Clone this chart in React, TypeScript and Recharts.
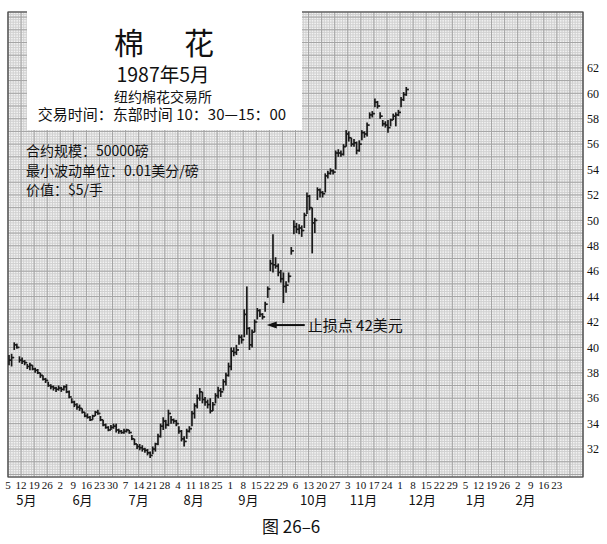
import { ComposedChart, Bar, XAxis, YAxis, CartesianGrid, ReferenceArea, ReferenceDot } from 'recharts'

// one label per week, starting Tuesday 5 May 1987
const weekLabels = [
  '5', '12', '19', '26',
  '2', '9', '16', '23', '30',
  '7', '14', '21', '28',
  '4', '11', '18', '25',
  '1', '8', '15', '22', '29',
  '6', '13', '20', '27',
  '3', '10', '17', '24',
  '1', '8', '15', '22', '29',
  '5', '12', '19', '26',
  '2', '9', '16', '23',
]
const monthLabels = ['5月', '6月', '7月', '8月', '9月', '10月', '11月', '12月', '1月', '2月']
const monthPos = [1.4, 5.7, 10, 14.2, 18.4, 23.4, 27.2, 31.7, 35.8, 39.6]
const priceTicks = [32, 34, 36, 38, 40, 42, 44, 46, 48, 50, 52, 54, 56, 58, 60, 62]

// daily bars, five per week
const highs = [
  39.4, 39.5, 40.4, 40.3, 39.3,
  39.2, 39.0, 38.7, 38.8, 38.6,
  38.4, 38.3, 38.0, 37.8, 37.6,
  37.3, 37.1, 37.0, 36.9, 37.0,
  36.9, 37.0, 37.1, 36.6, 36.0,
  35.8, 35.6, 35.5, 35.2, 34.9,
  34.8, 34.6, 34.7, 35.0, 35.1,
  34.6, 34.3, 34.0, 33.8, 33.9,
  34.0, 34.0, 33.6, 33.5, 33.6,
  33.6, 33.5, 33.1, 32.8, 32.4,
  32.4, 32.3, 32.1, 32.0, 31.8,
  32.2, 32.5, 33.2, 34.0, 34.5,
  34.3, 35.1, 34.6, 34.4, 34.3,
  33.8, 33.5, 33.0, 33.6, 33.8,
  35.0, 35.6, 36.3, 36.8, 36.5,
  36.1, 35.9, 36.0, 35.7, 36.4,
  36.9, 36.8, 37.5, 38.0, 38.8,
  40.0, 40.0, 40.2, 41.0, 41.0,
  43.0, 44.8, 41.6, 41.4, 42.2,
  43.1, 43.0, 42.7, 43.6, 44.8,
  46.9, 48.9, 47.1, 46.6, 46.1,
  45.9, 45.2, 45.9, 47.9, 50.0,
  49.8, 49.7, 49.6, 50.6, 52.2,
  52.0, 51.0, 50.2, 52.6, 52.5,
  52.3, 53.7, 53.9, 54.1, 54.0,
  55.5, 55.6, 55.5, 56.0, 57.1,
  57.0, 56.5, 56.4, 56.2, 56.3,
  57.1, 57.0, 57.7, 58.5, 58.6,
  59.6, 59.4, 58.5, 57.9, 57.8,
  57.9, 58.0, 58.4, 58.5, 58.7,
  59.7, 60.1, 60.5,
]
const lows = [
  38.6, 38.5, 39.8, 39.9, 38.8,
  38.7, 38.6, 38.3, 38.2, 38.2,
  38.0, 37.9, 37.6, 37.4, 37.2,
  36.9, 36.7, 36.6, 36.5, 36.6,
  36.5, 36.6, 36.4, 36.0, 35.6,
  35.3, 35.1, 35.0, 34.8, 34.5,
  34.4, 34.2, 34.3, 34.6, 34.7,
  34.2, 33.8, 33.6, 33.4, 33.5,
  33.6, 33.3, 33.2, 33.2, 33.2,
  33.3, 33.2, 32.7, 32.3, 32.0,
  31.9, 31.8, 31.7, 31.5, 31.3,
  31.6, 31.8, 32.3, 32.9, 33.5,
  33.6, 33.8, 34.0, 34.0, 33.8,
  33.2, 32.6, 32.2, 32.8, 33.3,
  33.8, 34.4, 35.2, 35.8, 35.6,
  35.4, 35.2, 34.8, 35.0, 35.6,
  36.0, 36.1, 36.6, 37.0, 37.7,
  38.2, 39.3, 39.4, 40.2, 40.3,
  40.8, 41.0, 39.8, 40.0, 41.2,
  42.2, 42.4, 42.2, 42.8, 43.9,
  46.0, 45.9, 46.2, 45.6, 45.1,
  43.5, 44.3, 45.1, 47.3, 48.9,
  49.0, 48.9, 48.7, 49.4, 50.5,
  50.8, 47.4, 49.0, 51.6, 51.8,
  51.8, 52.2, 53.3, 53.6, 53.6,
  54.0, 55.0, 55.0, 55.1, 55.8,
  56.2, 55.8, 55.8, 55.2, 55.4,
  56.3, 56.5, 56.6, 58.0, 58.1,
  58.9, 58.8, 58.0, 57.4, 57.3,
  56.9, 57.4, 57.9, 57.4, 58.2,
  58.9, 59.4, 59.8,
]
const closes = [
  39.0, 39.2, 40.2, 40.0, 39.0,
  38.9, 38.8, 38.5, 38.6, 38.3,
  38.2, 38.0, 37.8, 37.5, 37.4,
  37.0, 36.9, 36.8, 36.7, 36.8,
  36.7, 36.9, 36.5, 36.1, 35.7,
  35.5, 35.3, 35.2, 34.9, 34.6,
  34.5, 34.3, 34.6, 34.9, 34.8,
  34.3, 33.9, 33.7, 33.5, 33.7,
  33.8, 33.5, 33.4, 33.3, 33.4,
  33.5, 33.3, 32.8, 32.4, 32.2,
  32.1, 32.0, 31.9, 31.7, 31.5,
  32.0, 32.4, 33.0, 33.8, 34.2,
  33.9, 34.8, 34.3, 34.2, 34.0,
  33.4, 32.8, 32.6, 33.4, 33.6,
  34.8, 35.4, 36.0, 36.5, 35.9,
  35.7, 35.5, 35.0, 35.5, 36.2,
  36.6, 36.5, 37.3, 37.8, 38.5,
  39.7, 39.6, 39.8, 40.8, 40.6,
  42.6, 41.5, 40.2, 41.2, 42.0,
  42.9, 42.6, 42.4, 43.4, 44.6,
  46.6, 46.5, 46.4, 45.9, 45.4,
  44.8, 44.9, 45.6, 47.6, 49.5,
  49.3, 49.4, 49.2, 50.4, 51.9,
  51.0, 49.8, 50.0, 52.4, 52.2,
  52.1, 53.5, 53.7, 53.9, 53.8,
  55.3, 55.3, 55.2, 55.8, 56.8,
  56.5, 56.0, 56.1, 55.5, 56.0,
  56.9, 56.8, 57.5, 58.3, 58.4,
  59.3, 59.0, 58.2, 57.6, 57.5,
  57.3, 57.9, 58.2, 58.3, 58.5,
  59.5, 59.9, 60.3,
]

const data = highs.map((h, i) => ({
  day: Math.floor(i / 5) + ((i % 5) + 0.5) / 5,
  high: h,
  low: lows[i],
  close: closes[i],
  range: [lows[i], h],
}))

const X_DOMAIN = [0, 44]
const Y_DOMAIN = [29.8, 66.4]

// graph paper
const minorX = Array.from({ length: 221 }, (_, i) => +(i * 0.2).toFixed(1))
const minorY = Array.from({ length: 184 }, (_, i) => +(29.8 + i * 0.2).toFixed(1))
const majorX = Array.from({ length: 45 }, (_, i) => i)
const majorY = Array.from({ length: 37 }, (_, i) => 30 + i)

const OhlcBar = (props: any) => {
  const { x, y, width, height, payload } = props
  const cx = x + width / 2
  const span = payload.high - payload.low
  const cy = span > 0 ? y + ((payload.high - payload.close) / span) * height : y
  return (
    <g stroke="#1a1a1a" strokeWidth={1.7}>
      <line x1={cx} y1={y} x2={cx} y2={y + height} />
      <line x1={cx} y1={cy} x2={cx + 2.6} y2={cy} />
    </g>
  )
}

const StopArrow = ({ cx, cy }: any) => (
  <g>
    <polygon points={`${cx},${cy} ${cx + 10},${cy - 3.5} ${cx + 10},${cy + 3.5}`} fill="#111" />
    <line x1={cx + 9} y1={cy} x2={cx + 38} y2={cy} stroke="#111" strokeWidth={2} />
    <text x={cx + 41} y={cy + 5.5} fontSize={15} fontFamily="'Noto Sans CJK SC'" fill="#111">
      止损点 42美元
    </text>
  </g>
)

const cjk = "'Noto Sans CJK SC', 'Noto Sans', sans-serif"
const txt = (left: number, top: number, size: number, extra: any = {}) => ({
  position: 'absolute' as const,
  left,
  top,
  fontSize: size,
  lineHeight: `${size}px`,
  fontFamily: cjk,
  color: '#111',
  whiteSpace: 'nowrap' as const,
  ...extra,
})

export default function App() {
  return (
    <div style={{ position: 'absolute', left: 0, top: 0, width: 607, height: 544, background: '#fff' }}>
      <ComposedChart width={607} height={544} data={data} margin={{ top: 12, right: 0, bottom: 31, left: 8 }}>
        <XAxis
          xAxisId="day"
          dataKey="day"
          type="number"
          domain={X_DOMAIN}
          ticks={majorX.slice(0, weekLabels.length)}
          tickFormatter={(v: number) => weekLabels[v] ?? ''}
          allowDataOverflow
          height={17}
          axisLine={false}
          tickLine={false}
          tickSize={0}
          tickMargin={4}
          interval={0}
          tick={{ fontSize: 11, fontFamily: "'Liberation Serif', serif", fill: '#111' }}
        />
        <XAxis
          xAxisId="month"
          dataKey="day"
          type="number"
          domain={X_DOMAIN}
          ticks={monthPos}
          tickFormatter={(v: number) => monthLabels[monthPos.indexOf(v)] ?? ''}
          allowDataOverflow
          height={19}
          axisLine={false}
          tickLine={false}
          tickSize={0}
          tickMargin={2}
          interval={0}
          tick={{ fontSize: 13, fontFamily: cjk, fill: '#111' }}
        />
        <YAxis
          yAxisId="price"
          orientation="right"
          type="number"
          domain={Y_DOMAIN}
          ticks={priceTicks}
          allowDataOverflow
          width={24}
          axisLine={false}
          tickLine={false}
          tickSize={0}
          tickMargin={4}
          interval={0}
          tick={{ fontSize: 12, fontFamily: "'Liberation Serif', serif", fill: '#111' }}
        />
        <XAxis xAxisId="minorX" dataKey="day" type="number" domain={X_DOMAIN} ticks={minorX} interval={0} allowDataOverflow hide height={0} />
        <YAxis yAxisId="minorY" type="number" domain={Y_DOMAIN} ticks={minorY} interval={0} allowDataOverflow hide width={0} />
        <XAxis xAxisId="majorX" dataKey="day" type="number" domain={X_DOMAIN} ticks={majorX} interval={0} allowDataOverflow hide height={0} />
        <YAxis yAxisId="majorY" type="number" domain={Y_DOMAIN} ticks={majorY} interval={0} allowDataOverflow hide width={0} />
        <CartesianGrid xAxisId="minorX" yAxisId="minorY" stroke="#d0d0d0" fill="#f3f3f3" />
        <CartesianGrid xAxisId="majorX" yAxisId="majorY" stroke="#a4a4a4" />
        <ReferenceArea
          xAxisId="day"
          yAxisId="price"
          x1={X_DOMAIN[0]}
          x2={X_DOMAIN[1]}
          y1={Y_DOMAIN[0]}
          y2={Y_DOMAIN[1]}
          fill="none"
          stroke="#444"
          strokeWidth={1.2}
          ifOverflow="visible"
        />
        <Bar
          xAxisId="day"
          yAxisId="price"
          dataKey="range"
          barSize={2}
          shape={OhlcBar}
          isAnimationActive={false}
        />
        <ReferenceDot xAxisId="day" yAxisId="price" x={19.8} y={41.76} r={0} shape={StopArrow} ifOverflow="visible" />
      </ComposedChart>

      <div style={{ position: 'absolute', left: 27, top: 0, width: 275, height: 130, background: '#fff' }} />
      <div style={txt(114, 26, 30)}>棉</div>
      <div style={txt(184, 26, 30)}>花</div>
      <div style={txt(27, 64, 19.5, { width: 272, textAlign: 'center' })}>1987年5月</div>
      <div style={txt(27, 89, 14, { width: 272, textAlign: 'center' })}>纽约棉花交易所</div>
      <div style={txt(27, 106, 15, { width: 270, textAlign: 'center' })}>交易时间：东部时间 10：30—15：00</div>
      <div style={txt(26, 143, 14)}>合约规模：50000磅</div>
      <div style={txt(26, 163, 14)}>最小波动单位：0.01美分/磅</div>
      <div style={txt(26, 182, 14)}>价值：$5/手</div>
      <div style={txt(262, 516.5, 17)}>图 26–6</div>
    </div>
  )
}
